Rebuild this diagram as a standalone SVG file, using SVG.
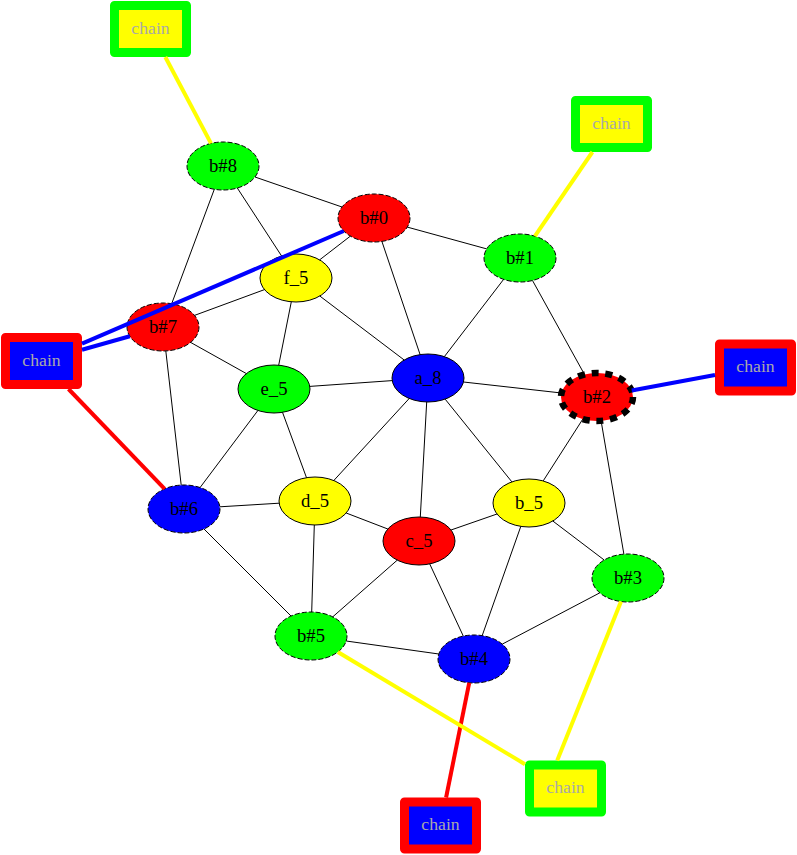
<svg xmlns="http://www.w3.org/2000/svg" width="797" height="855" viewBox="0 0 797 855">
<style>
.n{stroke:#000;stroke-width:1}
.d{stroke-dasharray:5,2}
.lbl{font-family:"Liberation Serif","Times New Roman",serif;font-size:18.67px;text-anchor:middle;fill:#000}
.cl{font-family:"Liberation Serif","Times New Roman",serif;font-size:17.7px;text-anchor:middle;fill:#a9a9a9}
.cb{stroke-width:9;stroke-linejoin:round}
.e{stroke:#000;stroke-width:1;fill:none}
.y{stroke:#ffff00;stroke-width:4;fill:none}
.bl{stroke:#0000ff;stroke-width:4;fill:none}
.r{stroke:#ff0000;stroke-width:4;fill:none}
</style>
<rect width="797" height="855" fill="#fff"/>
<g id="nodes">
<g id="chain_tl"><rect class="cb" x="114.5" y="5.5" width="72" height="47" fill="#ffff00" stroke="#00ff00"/><text class="cl" x="150.5" y="33.7">chain</text></g>
<g id="chain_tr"><rect class="cb" x="575.5" y="100.5" width="72" height="47" fill="#ffff00" stroke="#00ff00"/><text class="cl" x="611.5" y="128.7">chain</text></g>
<g id="chain_l"><rect class="cb" x="5.5" y="337.5" width="72" height="47" fill="#0000ff" stroke="#ff0000"/><text class="cl" x="41.5" y="365.7">chain</text></g>
<g id="chain_r"><rect class="cb" x="719.5" y="344" width="72" height="47" fill="#0000ff" stroke="#ff0000"/><text class="cl" x="755.5" y="372.2">chain</text></g>
<g id="chain_b"><rect class="cb" x="404.5" y="802" width="72" height="47" fill="#0000ff" stroke="#ff0000"/><text class="cl" x="440.5" y="830.2">chain</text></g>
<g id="chain_br"><rect class="cb" x="529.5" y="765" width="72" height="47" fill="#ffff00" stroke="#00ff00"/><text class="cl" x="565.5" y="793.2">chain</text></g>
<g id="b8"><ellipse class="n d" cx="223" cy="166" rx="36" ry="24" fill="#00ff00"/><text class="lbl" x="223" y="172.3">b#8</text></g>
<g id="b0"><ellipse class="n d" cx="374" cy="218" rx="36" ry="24" fill="#ff0000"/><text class="lbl" x="374" y="224.3">b#0</text></g>
<g id="b1"><ellipse class="n d" cx="520" cy="258" rx="36" ry="24" fill="#00ff00"/><text class="lbl" x="520" y="264.3">b#1</text></g>
<g id="f_5"><ellipse class="n" cx="296" cy="278" rx="36" ry="24" fill="#ffff00"/><text class="lbl" x="296" y="284.3">f_5</text></g>
<g id="b7"><ellipse class="n d" cx="163" cy="327" rx="36" ry="24" fill="#ff0000"/><text class="lbl" x="163" y="333.3">b#7</text></g>
<g id="a_8"><ellipse class="n" cx="428" cy="378" rx="36" ry="24" fill="#0000ff"/><text class="lbl" x="428" y="384.3">a_8</text></g>
<g id="e_5"><ellipse class="n" cx="274" cy="389" rx="36" ry="24" fill="#00ff00"/><text class="lbl" x="274" y="395.3">e_5</text></g>
<g id="b2"><ellipse cx="597" cy="397" rx="36" ry="24" fill="#ff0000" stroke="#000" stroke-width="6.5" stroke-dasharray="7,6.7"/><text class="lbl" x="597" y="403.3">b#2</text></g>
<g id="b6"><ellipse class="n d" cx="184" cy="509" rx="36" ry="24" fill="#0000ff"/><text class="lbl" x="184" y="515.3">b#6</text></g>
<g id="d_5"><ellipse class="n" cx="315" cy="501" rx="36" ry="24" fill="#ffff00"/><text class="lbl" x="315" y="507.3">d_5</text></g>
<g id="b_5"><ellipse class="n" cx="529" cy="503" rx="36" ry="24" fill="#ffff00"/><text class="lbl" x="529" y="509.3">b_5</text></g>
<g id="c_5"><ellipse class="n" cx="419" cy="541" rx="36" ry="24" fill="#ff0000"/><text class="lbl" x="419" y="547.3">c_5</text></g>
<g id="b3"><ellipse class="n d" cx="628" cy="578" rx="36" ry="24" fill="#00ff00"/><text class="lbl" x="628" y="584.3">b#3</text></g>
<g id="b5"><ellipse class="n d" cx="311" cy="636" rx="36" ry="24" fill="#00ff00"/><text class="lbl" x="311" y="642.3">b#5</text></g>
<g id="b4"><ellipse class="n d" cx="474" cy="659" rx="36" ry="24" fill="#0000ff"/><text class="lbl" x="474" y="665.3">b#4</text></g>
</g>
<g id="connectors">
<path class="e" d="M255,177L342,207"/>
<path class="e" d="M237.3,188L281.6,256"/>
<path class="e" d="M214.3,189.3L171.7,303.7"/>
<path class="e" d="M350.4,236.1L319.6,259.9"/>
<path class="e" d="M381.9,241.4L420.1,354.6"/>
<path class="e" d="M407.3,227.1L486.7,248.9"/>
<path class="e" d="M503.6,279.4L444.4,356.6"/>
<path class="e" d="M532.5,280.5L584.5,374.5"/>
<path class="e" d="M264.5,289.6L194.5,315.4"/>
<path class="e" d="M291.3,301.8L278.7,365.2"/>
<path class="e" d="M319.8,296L404.2,360"/>
<path class="e" d="M190.6,342.4L246.4,373.6"/>
<path class="e" d="M165.8,350.9L181.2,485.1"/>
<path class="e" d="M309.8,386.4L392.2,380.6"/>
<path class="e" d="M257.9,410.5L200.1,487.5"/>
<path class="e" d="M282.5,412.3L306.5,477.7"/>
<path class="e" d="M463.5,382L561.5,393"/>
<path class="e" d="M409.2,398.5L333.8,480.5"/>
<path class="e" d="M426.7,402L420.3,517"/>
<path class="e" d="M445.1,399.1L511.9,481.9"/>
<path class="e" d="M582.8,419.1L543.2,480.9"/>
<path class="e" d="M601.1,420.9L623.9,554.2"/>
<path class="e" d="M219.9,506.8L279.2,503.2"/>
<path class="e" d="M204,529L291,616"/>
<path class="e" d="M346.2,513L387.8,529"/>
<path class="e" d="M314.3,525L311.7,612"/>
<path class="e" d="M451,530L497,514"/>
<path class="e" d="M397.3,560.1L332.7,616.9"/>
<path class="e" d="M429.7,563.9L463.3,636.1"/>
<path class="e" d="M520.8,526.4L482.2,635.6"/>
<path class="e" d="M552.8,521L604.2,560"/>
<path class="e" d="M599.7,592.9L502.3,644.1"/>
<path class="e" d="M346.2,641L438.8,654"/>
<path class="y" d="M165.3,57L211,143.4"/>
<path class="y" d="M592.4,152L534.9,236.2"/>
<path class="bl" d="M82,343.6L343.7,231"/>
<path class="bl" d="M82,349.7L129.8,336.3"/>
<path class="r" d="M68.5,389L164.6,488.8"/>
<path class="bl" d="M631.7,390.5L715,375"/>
<path class="r" d="M469.2,682.8L446.1,797.5"/>
<path class="y" d="M337.8,652L525,764.2"/>
<path class="y" d="M621,601.5L557.2,760.5"/>
</g>
</svg>
